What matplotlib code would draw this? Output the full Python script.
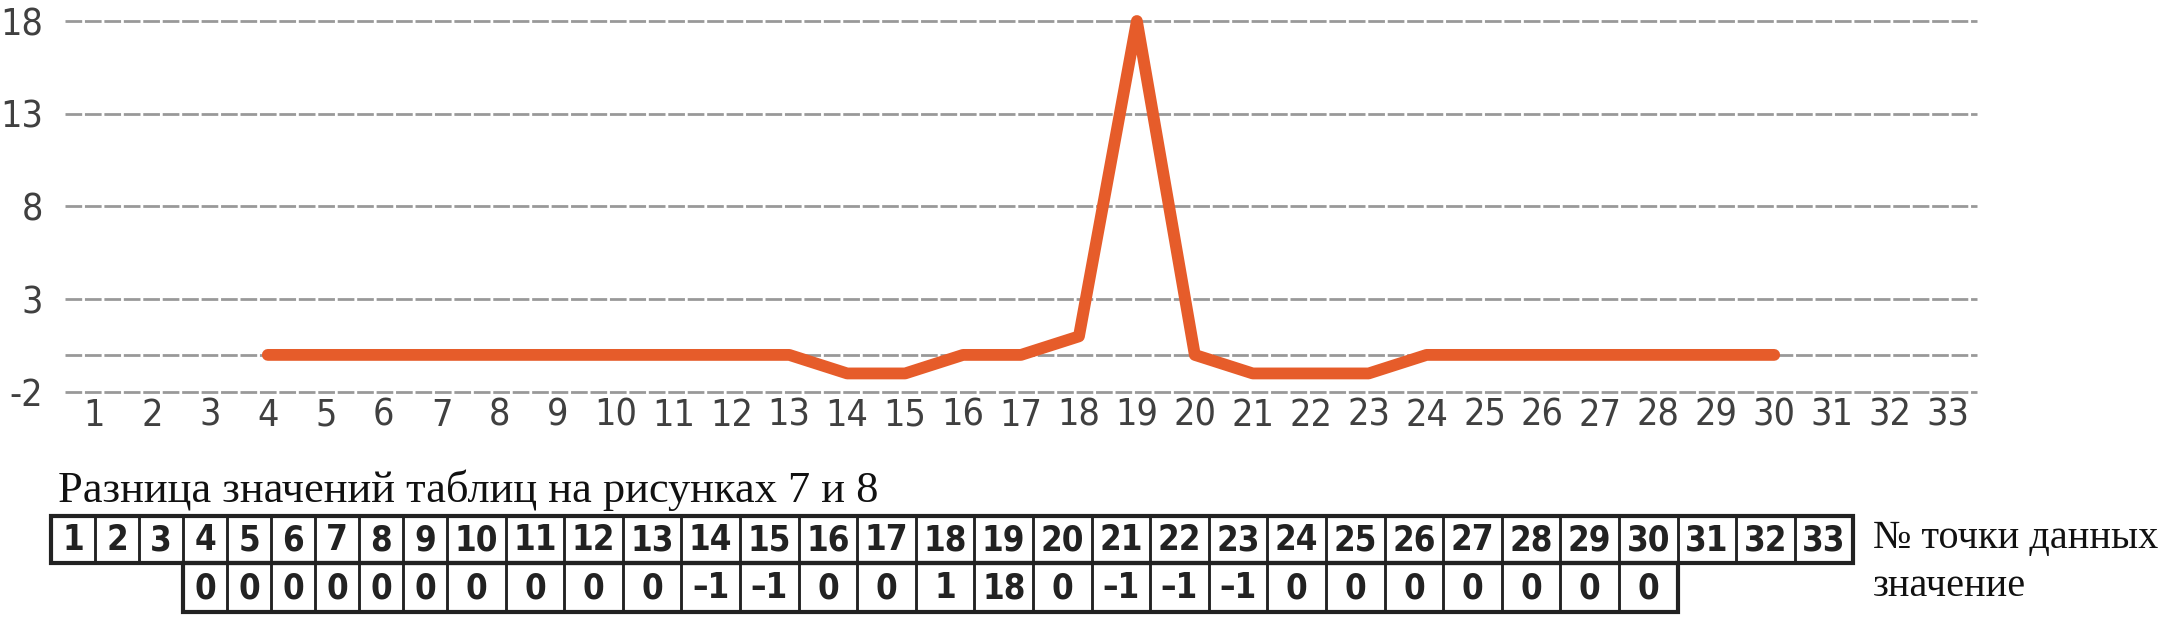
import matplotlib
matplotlib.use('Agg')
import matplotlib.pyplot as plt
from matplotlib.patches import Rectangle
from matplotlib import font_manager

# данные
points = list(range(1, 34))
diff_x = list(range(4, 31))
diff_vals = [0, 0, 0, 0, 0, 0, 0, 0, 0, 0, -1, -1, 0, 0, 1, 18, 0, -1, -1, -1, 0, 0, 0, 0, 0, 0, 0]
y_labels = [-2, 3, 8, 13, 18]

title_txt = 'Разница значений таблиц на рисунках 7 и 8'
row1_txt = '№ точки данных'
row2_txt = 'значение'

W, H = 2167, 624
fig = plt.figure(figsize=(W / 100, H / 100), dpi=100)

# узкий шрифт, если есть
fp = font_manager.FontProperties(family='DejaVu Sans', stretch='condensed')
has_cond = 'Condensed' in font_manager.findfont(fp, fallback_to_default=True)
stretch = 'condensed' if has_cond else 'normal'
tick_fs = 27 if has_cond else 21
cell_fs = 25 if has_cond else 20
serif = ['Liberation Serif', 'DejaVu Serif']

# график
ax = fig.add_axes([65 / W, 1 - 392 / H, (1977 - 65) / W, (392 - 21) / H])
ax.plot(diff_x, diff_vals, color='#E65C2A', lw=8.5, solid_capstyle='round',
        solid_joinstyle='round', clip_on=False, zorder=3)
ax.set_xlim(0.5, 33.5)
ax.set_ylim(-2, 18)
ax.set_xticks(points)
ax.set_xticklabels([str(p) for p in points], family='DejaVu Sans', stretch=stretch,
                   fontsize=tick_fs, color='#404040')
ax.set_yticks(y_labels)
ax.set_yticklabels([str(v) for v in y_labels], family='DejaVu Sans', stretch=stretch,
                   fontsize=tick_fs, color='#404040')
ax.set_yticks([0], minor=True)
ax.grid(axis='y', which='both', color='#999999', lw=2, ls=(0, (6, 1)))
for gl in ax.get_ygridlines() + ax.yaxis.get_minorticklines():
    gl.set_clip_on(False)
for t in ax.yaxis.get_major_ticks() + ax.yaxis.get_minor_ticks():
    t.gridline.set_clip_on(False)
ax.tick_params(axis='both', which='both', length=0)
ax.tick_params(axis='y', pad=16)
ax.tick_params(axis='x', pad=4)
for s in ax.spines.values():
    s.set_visible(False)

# таблица под графиком
tab = fig.add_axes([0, 0, 1, 1])
tab.set_xlim(0, W)
tab.set_ylim(H, 0)
tab.axis('off')

tab.text(58, 490, title_txt, family=serif, fontsize=32, va='center', ha='left', color='#111111')

left = 51
widths = [44] * 9 + [58.6] * 24
edges = [left]
for w in widths:
    edges.append(edges[-1] + w)
top, mid, bot = 516, 563, 612

for i, p in enumerate(points):
    x0, x1 = edges[i], edges[i + 1]
    tab.add_patch(Rectangle((x0, top), x1 - x0, mid - top, fill=False, ec='#222222', lw=1.8))
    tab.text((x0 + x1) / 2, (top + mid) / 2 + 1, str(p), family='DejaVu Sans', stretch=stretch,
             fontsize=cell_fs, fontweight='bold', ha='center', va='center', color='#222222')
for xv, v in zip(diff_x, diff_vals):
    i = points.index(xv)
    x0, x1 = edges[i], edges[i + 1]
    tab.add_patch(Rectangle((x0, mid), x1 - x0, bot - mid, fill=False, ec='#222222', lw=1.8))
    lab = str(v).replace('-', '–')
    tab.text((x0 + x1) / 2, (mid + bot) / 2 + 1, lab, family='DejaVu Sans', stretch=stretch,
             fontsize=cell_fs, fontweight='bold', ha='center', va='center', color='#222222')

# внешняя рамка потолще
tab.add_patch(Rectangle((edges[0], top), edges[-1] - edges[0], mid - top, fill=False, ec='#222222', lw=3))
i0, i1 = points.index(diff_x[0]), points.index(diff_x[-1]) + 1
tab.add_patch(Rectangle((edges[i0], mid), edges[i1] - edges[i0], bot - mid, fill=False, ec='#222222', lw=3))

tab.text(1873, 539, row1_txt, family=serif, fontsize=29, va='center', ha='left', color='#111111')
tab.text(1873, 587, row2_txt, family=serif, fontsize=29, va='center', ha='left', color='#111111')

fig.savefig('out.png', dpi=100)
